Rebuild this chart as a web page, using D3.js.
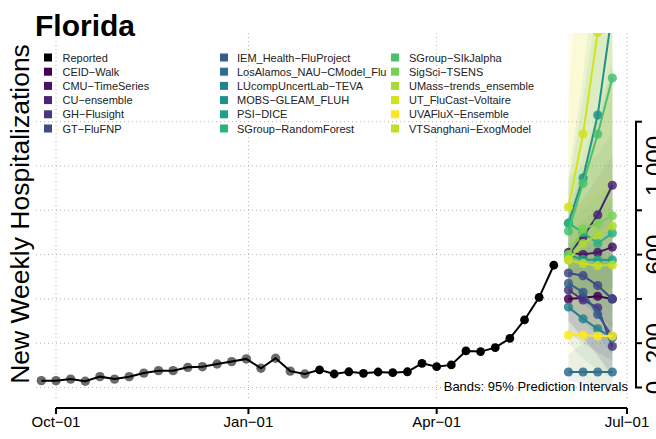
<!DOCTYPE html>
<html><head><meta charset="utf-8">
<script src="https://cdn.jsdelivr.net/npm/d3@7"></script>
<style>
body{margin:0;background:#fff}
svg{display:block}
text{font-family:"Liberation Sans",Arial,Helvetica,sans-serif}
</style>
</head><body>
<svg id="c" width="656" height="439"></svg>
<script>
const title = "Florida";
const yTitle = "New Weekly Hospitalizations";
const reportedDates = ["2022-09-24","2022-10-01","2022-10-08","2022-10-15","2022-10-22","2022-10-29","2022-11-05","2022-11-12","2022-11-19","2022-11-26","2022-12-03","2022-12-10","2022-12-17","2022-12-24","2022-12-31","2023-01-07","2023-01-14","2023-01-21","2023-01-28","2023-02-04","2023-02-11","2023-02-18","2023-02-25","2023-03-04","2023-03-11","2023-03-18","2023-03-25","2023-04-01","2023-04-08","2023-04-15","2023-04-22","2023-04-29","2023-05-06","2023-05-13","2023-05-20","2023-05-27"];
const reportedValues = [31,31,38,28,49,38,49,65,76,76,91,94,106,117,129,87,132,74,61,80,61,71,64,70,67,71,109,94,102,165,162,180,222,305,407,552];
const greyCount = 19;
const forecastDates = ["2023-06-03","2023-06-10","2023-06-17","2023-06-24"];
const models = ["CEID\u2212Walk","CMU\u2212TimeSeries","CU\u2212ensemble","GH\u2212Flusight","GT\u2212FluFNP","IEM_Health\u2212FluProject","LosAlamos_NAU\u2212CModel_Flu","LUcompUncertLab\u2212TEVA","MOBS\u2212GLEAM_FLUH","PSI\u2212DICE","SGroup\u2212RandomForest","SGroup\u2212SIkJalpha","SigSci\u2212TSENS","UMass\u2212trends_ensemble","UT_FluCast\u2212Voltaire","UVAFluX\u2212Ensemble","VTSanghani\u2212ExogModel"];
const modelColors = ["#440154","#481467","#482677","#453781","#3f4a8a","#365c8d","#2e6f8e","#26828e","#21918c","#1fa187","#2db27d","#4ac16d","#7ad151","#a8db34","#d2e21b","#fde725","#c2df23"];
const medianValues = [
  [400,405,412,400],
  [610,600,610,634],
  [600,681,779,913],
  [440,395,360,186],
  [517,505,460,400],
  [470,430,330,230],
  [70,70,70,70],
  [363,310,265,225],
  [742,946,1230,1700],
  [598,578,576,576],
  [742,700,650,697],
  [706,922,1144,1397],
  [600,716,740,775],
  [576,650,690,729],
  [815,1144,1603,2000],
  [237,237,232,232],
  [576,560,550,553]
];
const lowerValues = [
  [250,200,160,120],
  [450,380,320,270],
  [420,420,430,450],
  [300,220,150,40],
  [360,300,230,150],
  [300,230,140,60],
  [30,20,10,5],
  [200,130,80,40],
  [550,600,700,800],
  [450,380,320,280],
  [550,450,380,350],
  [520,600,700,800],
  [400,420,400,380],
  [420,400,380,360],
  [500,600,700,800],
  [60,40,20,10],
  [380,300,240,200]
];
const upperValues = [
  [560,640,720,800],
  [780,850,950,1050],
  [800,980,1200,1450],
  [600,620,650,600],
  [700,760,800,850],
  [650,680,620,560],
  [150,200,250,300],
  [550,560,570,600],
  [950,1400,2000,2800],
  [760,800,860,920],
  [950,1000,1050,1150],
  [900,1300,1750,2300],
  [820,1050,1250,1500],
  [760,950,1150,1400],
  [1300,2200,3500,5000],
  [1700,1800,1900,2000],
  [800,850,900,960]
];
const xTickDates = ["2022-10-01","2023-01-01","2023-04-01","2023-07-01"];
const xTickLabels = ["Oct\u221201","Jan\u221201","Apr\u221201","Jul\u221201"];
const yTicks = [0,200,400,600,800,1000,1200];
const yTickLabels = ["0","200","","600","","1,000",""];
const bandNote = "Bands: 95% Prediction Intervals";

const P = d => new Date(d + "T00:00:00Z");
const svg = d3.select("#c");
const x = d3.scaleUtc().domain([P(xTickDates[0]), P(xTickDates[3])]).range([56, 627]);
const y = d3.scaleLinear().domain([0, 1200]).range([387.5, 121.7]);
const plotTop = 33, plotBottom = 398, plotLeft = 36, plotRight = 630;

svg.append("defs").append("clipPath").attr("id","clip")
  .append("rect").attr("x", plotLeft-6).attr("y", plotTop).attr("width", plotRight-plotLeft+6).attr("height", plotBottom-plotTop+4);

// grid
const grid = svg.append("g").attr("stroke","#b4b4b4").attr("stroke-width",1).attr("stroke-dasharray","1,3");
yTicks.forEach(t => grid.append("line").attr("x1", plotLeft).attr("x2", 627).attr("y1", y(t)).attr("y2", y(t)));
xTickDates.forEach(d => grid.append("line").attr("x1", x(P(d))).attr("x2", x(P(d))).attr("y1", plotTop).attr("y2", plotBottom));

const plot = svg.append("g").attr("clip-path","url(#clip)");

// bands
const area = d3.area().x(d => x(d.d)).y0(d => y(d.lo)).y1(d => y(d.hi));
models.forEach((m,i) => {
  const pts = forecastDates.map((d,j) => ({d:P(d), lo:lowerValues[i][j], hi:upperValues[i][j]}));
  plot.append("path").datum(pts).attr("d", area).attr("fill", modelColors[i]).attr("fill-opacity", 0.095);
});

// note
svg.append("text").attr("x", 628).attr("y", 391).attr("text-anchor","end").attr("font-size", 13).attr("fill","#000").text(bandNote);

// model lines
const line = d3.line().x(d => x(d.d)).y(d => y(d.v));
models.forEach((m,i) => {
  const pts = forecastDates.map((d,j) => ({d:P(d), v:medianValues[i][j]}));
  plot.append("path").datum(pts).attr("d", line).attr("fill","none").attr("stroke", modelColors[i]).attr("stroke-width", 2);
  plot.selectAll(null).data(pts).enter().append("circle")
    .attr("cx", d => x(d.d)).attr("cy", d => y(d.v)).attr("r", 4.6)
    .attr("fill", modelColors[i]).attr("fill-opacity", 0.85);
});

// reported
const rep = reportedDates.map((d,i) => ({d:P(d), v:reportedValues[i], i}));
plot.selectAll(null).data(rep.filter(d => d.i < greyCount)).enter().append("circle")
  .attr("cx", d => x(d.d)).attr("cy", d => y(d.v)).attr("r", 4.7).attr("fill", "#6a6a6a");
plot.append("path").datum(rep).attr("d", line).attr("fill","none").attr("stroke","#000").attr("stroke-width",2);
plot.selectAll(null).data(rep.filter(d => d.i >= greyCount)).enter().append("circle")
  .attr("cx", d => x(d.d)).attr("cy", d => y(d.v)).attr("r", 4.4).attr("fill", "#000");

// x axis
const xa = svg.append("g");
const axY = 408;
xa.append("line").attr("x1", x(P(xTickDates[0]))).attr("x2", x(P(xTickDates[3]))).attr("y1", axY).attr("y2", axY).attr("stroke","#000").attr("stroke-width",2);
xTickDates.forEach((d,i) => {
  xa.append("line").attr("x1", x(P(d))).attr("x2", x(P(d))).attr("y1", axY).attr("y2", axY+6).attr("stroke","#000").attr("stroke-width",2);
  xa.append("text").attr("x", x(P(d))).attr("y", axY+19).attr("text-anchor","middle").attr("font-size",15).text(xTickLabels[i]);
});

// y axis (right)
const ya = svg.append("g");
const axX = 636;
ya.append("line").attr("x1", axX).attr("x2", axX).attr("y1", y(0)).attr("y2", y(1200)).attr("stroke","#000").attr("stroke-width",2);
yTicks.forEach((t,i) => {
  ya.append("line").attr("x1", axX-1).attr("x2", axX+6).attr("y1", y(t)).attr("y2", y(t)).attr("stroke","#000").attr("stroke-width",2);
  if (yTickLabels[i]) ya.append("text").attr("transform", `translate(663,${y(t)}) rotate(-90)`).attr("text-anchor","middle").attr("font-size",24).text(yTickLabels[i]);
});

// titles
svg.append("text").attr("x", 35).attr("y", 36).attr("font-size", 30).attr("font-weight","bold").text(title);
svg.append("text").attr("transform","translate(29,214) rotate(-90)").attr("text-anchor","middle").attr("font-size",26.5).text(yTitle);

// legend
const legNames = ["Reported", ...models];
const legColors = ["#000000", ...modelColors];
const colSq = [44, 220, 391], colTx = [62.5, 237, 409];
const lg = svg.append("g");
legNames.forEach((n,k) => {
  const c = Math.floor(k/6), r = k % 6;
  const cy = 57.5 + 14.2*r;
  lg.append("rect").attr("x", colSq[c]).attr("y", cy-4).attr("width", 8).attr("height", 8).attr("fill", legColors[k]);
  lg.append("text").attr("x", colTx[c]).attr("y", cy+4).attr("font-size", 11).attr("fill","#222").text(n);
});
</script>
</body></html>
